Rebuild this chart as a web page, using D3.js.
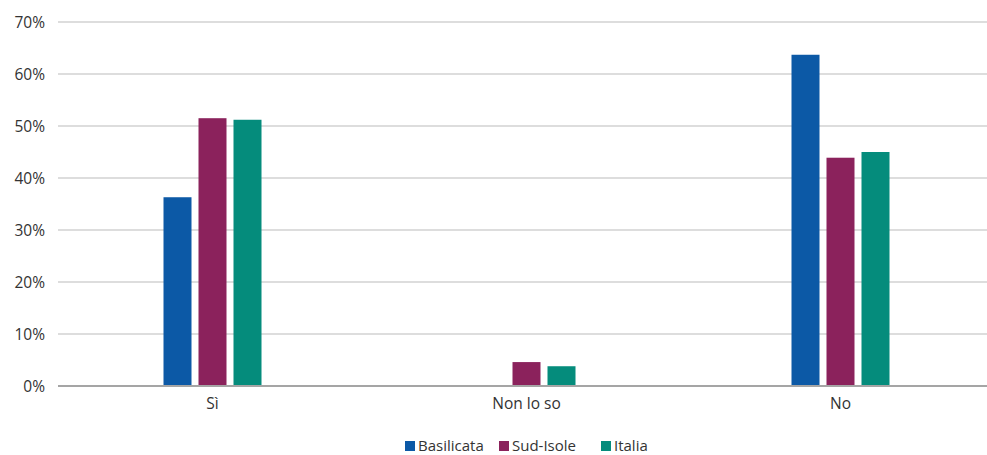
<!DOCTYPE html>
<html>
<head>
<meta charset="utf-8">
<script src="https://cdn.jsdelivr.net/npm/d3@7"></script>
<style>
  html, body { margin: 0; padding: 0; background: #fff; }
  svg { display: block; font-family: "Open Sans", "Noto Sans", sans-serif; }
</style>
</head>
<body>
<svg id="chart" width="987" height="455"></svg>
<script>
// Risposte per area geografica (quota %)
const categories = ["Sì", "Non lo so", "No"];
const seriesNames = ["Basilicata", "Sud-Isole", "Italia"];
const basilicata = [36.3, 0, 63.7];
const sudIsole = [51.5, 4.6, 43.9];
const italia = [51.2, 3.8, 45.0];
const yTicks = [0, 10, 20, 30, 40, 50, 60, 70];
const colors = ["#0c59a6", "#8b225c", "#058c7c"];

const series = [basilicata, sudIsole, italia];

const svg = d3.select("#chart");
const plot = { left: 55.5, right: 997.5, top: 22, bottom: 386 };
const gridX0 = 58, gridX1 = 987;

const x = d3.scaleBand()
  .domain(categories)
  .range([plot.left, plot.right])
  .paddingInner(0).paddingOuter(0);

const x1 = d3.scaleBand()
  .domain(seriesNames)
  .range([0, 98])
  .paddingInner(0.2);

const y = d3.scaleLinear().domain([0, 70]).range([plot.bottom, plot.top]);

// horizontal gridlines
svg.append("g")
  .selectAll("line")
  .data(yTicks.filter(t => t > 0))
  .join("line")
  .attr("x1", gridX0).attr("x2", gridX1)
  .attr("y1", d => y(d)).attr("y2", d => y(d))
  .attr("stroke", "#d2d2d2")
  .attr("stroke-width", 1.3);

// y tick labels
svg.append("g")
  .selectAll("text")
  .data(yTicks)
  .join("text")
  .attr("x", 45)
  .attr("y", d => y(d))
  .attr("dy", "0.36em")
  .attr("text-anchor", "end")
  .attr("font-size", 15.5)
  .attr("fill", "#333")
  .text(d => d + "%");

// bars
const groups = svg.append("g")
  .selectAll("g")
  .data(categories)
  .join("g")
  .attr("transform", c => `translate(${x(c) + x.bandwidth() / 2 - 49},0)`);

groups.selectAll("rect")
  .data((c, i) => seriesNames.map((s, k) => ({ s, k, v: series[k][i] })))
  .join("rect")
  .attr("x", d => x1(d.s))
  .attr("width", x1.bandwidth())
  .attr("y", d => y(d.v))
  .attr("height", d => y(0) - y(d.v))
  .attr("fill", d => colors[d.k]);

// baseline
svg.append("line")
  .attr("x1", gridX0).attr("x2", gridX1)
  .attr("y1", y(0)).attr("y2", y(0))
  .attr("stroke", "#a5a5a5")
  .attr("stroke-width", 2);

// category labels
svg.append("g")
  .selectAll("text")
  .data(categories)
  .join("text")
  .attr("x", c => x(c) + x.bandwidth() / 2)
  .attr("y", 409)
  .attr("text-anchor", "middle")
  .attr("font-size", 15.5)
  .attr("fill", "#333")
  .text(c => c);

// legend
const legendX = [405, 499, 601];
const legend = svg.append("g")
  .selectAll("g")
  .data(seriesNames)
  .join("g")
  .attr("transform", (d, i) => `translate(${legendX[i]},441)`);
legend.append("rect")
  .attr("width", 10).attr("height", 10)
  .attr("fill", (d, i) => colors[i]);
legend.append("text")
  .attr("x", 13)
  .attr("y", 10)
  .attr("font-size", 15)
  .attr("fill", "#333")
  .text(d => d);
</script>
</body>
</html>
